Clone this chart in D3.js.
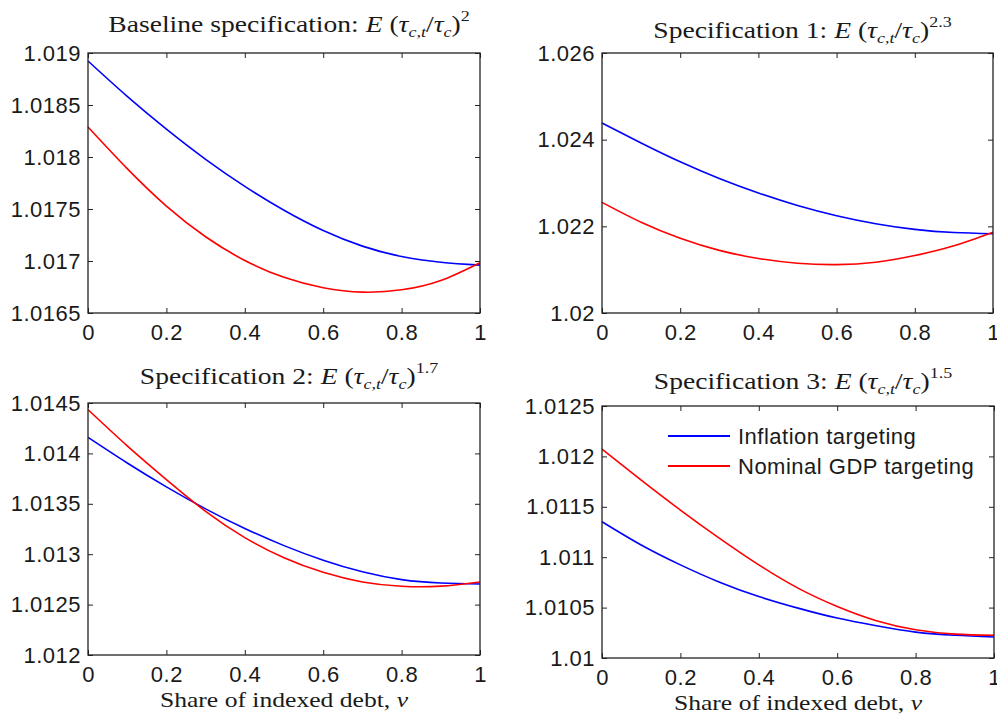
<!DOCTYPE html>
<html>
<head>
<meta charset="utf-8">
<script src="https://cdn.jsdelivr.net/npm/d3@7"></script>
<style>
  body { margin: 0; background: #fff; }
  .tick text { font-family: "Liberation Sans", Arial, sans-serif; font-size: 22px; fill: #1a1a1a; letter-spacing: 0.5px; }
  .tick line { stroke: #222; stroke-width: 1; }
  .title, .xtitle { font-family: "Liberation Serif", "DejaVu Serif", serif; fill: #1a1a1a; }
  .legend text { font-family: "Liberation Sans", Arial, sans-serif; font-size: 22px; fill: #1a1a1a; letter-spacing: 0.5px; }
</style>
</head>
<body>
<svg id="chart" width="997" height="715"></svg>
<script>
// share of indexed debt (x) sampled every 0.1
var shareV = [0, 0.1, 0.2, 0.3, 0.4, 0.5, 0.6, 0.7, 0.8, 0.9, 1];

// baseline: E(tau_ct/tau_c)^2
var baseInflation = [1.018923, 1.018583, 1.018268, 1.017978, 1.017718, 1.017488, 1.017293, 1.017143, 1.017043, 1.016988, 1.01696];
var baseNominal   = [1.018288, 1.017888, 1.017528, 1.017233, 1.017005, 1.016843, 1.016743, 1.016701, 1.016723, 1.016813, 1.016984];

// spec 1: exponent 2.3
var spec1Inflation = [1.024385, 1.023925, 1.02349, 1.023105, 1.02277, 1.02248, 1.022245, 1.02206, 1.02193, 1.021857, 1.02183];
var spec1Nominal   = [1.022554, 1.022095, 1.021725, 1.021445, 1.021258, 1.021148, 1.021117, 1.021172, 1.021325, 1.02155, 1.021862];

// spec 2: exponent 1.7
var spec2Inflation = [1.014159, 1.013905, 1.013668, 1.01345, 1.013255, 1.013085, 1.01294, 1.012825, 1.012748, 1.012714, 1.012705];
var spec2Nominal   = [1.014434, 1.014075, 1.01374, 1.013425, 1.013165, 1.012965, 1.01282, 1.012725, 1.012682, 1.012683, 1.012725];

// spec 3: exponent 1.5
var spec3Inflation = [1.011352, 1.011121, 1.010924, 1.010752, 1.01061, 1.010495, 1.010396, 1.01032, 1.010257, 1.010225, 1.010208];
var spec3Nominal   = [1.012071, 1.011765, 1.011468, 1.011187, 1.010924, 1.010693, 1.010511, 1.01037, 1.01028, 1.010237, 1.010225];

var xTicks = [0, 0.2, 0.4, 0.6, 0.8, 1];
var baseYTicks  = [1.0165, 1.017, 1.0175, 1.018, 1.0185, 1.019];
var spec1YTicks = [1.02, 1.022, 1.024, 1.026];
var spec2YTicks = [1.012, 1.0125, 1.013, 1.0135, 1.014, 1.0145];
var spec3YTicks = [1.01, 1.0105, 1.011, 1.0115, 1.012, 1.0125];

var seriesNames = ["Inflation targeting", "Nominal GDP targeting"];
var seriesColors = ["#0000ff", "#ff0000"];

var svg = d3.select("#chart");

var panels = [
  {title: "Baseline specification:", power: "2", left: 88, right: 480, top: 53, bottom: 313, titleY: 32,
   ticks: baseYTicks, lines: [baseInflation, baseNominal], xlabel: false},
  {title: "Specification 1:", power: "2.3", left: 602, right: 993, top: 53, bottom: 313, titleY: 38,
   ticks: spec1YTicks, lines: [spec1Inflation, spec1Nominal], xlabel: false},
  {title: "Specification 2:", power: "1.7", left: 88, right: 480, top: 403, bottom: 655, titleY: 384,
   ticks: spec2YTicks, lines: [spec2Inflation, spec2Nominal], xlabel: true},
  {title: "Specification 3:", power: "1.5", left: 602, right: 994, top: 406, bottom: 658, titleY: 389,
   ticks: spec3YTicks, lines: [spec3Inflation, spec3Nominal], xlabel: true, legend: true}
];

var fmt = function(v) { return String(+v.toFixed(5)); };

panels.forEach(function(p) {
  var x = d3.scaleLinear().domain([0, 1]).range([p.left, p.right]);
  var y = d3.scaleLinear().domain([p.ticks[0], p.ticks[p.ticks.length - 1]]).range([p.bottom, p.top]);
  var g = svg.append("g");

  // axes, ticks pointing inward like matlab
  g.append("g").attr("transform", "translate(0," + p.bottom + ")")
    .call(d3.axisBottom(x).tickValues(xTicks).tickFormat(fmt).tickSizeInner(-5).tickSizeOuter(0).tickPadding(11))
    .call(function(a) { a.select(".domain").remove(); });
  g.append("g").attr("transform", "translate(0," + p.top + ")")
    .call(d3.axisTop(x).tickValues(xTicks).tickFormat("").tickSizeInner(-5).tickSizeOuter(0))
    .call(function(a) { a.select(".domain").remove(); });
  g.append("g").attr("transform", "translate(" + p.left + ",0)")
    .call(d3.axisLeft(y).tickValues(p.ticks).tickFormat(fmt).tickSizeInner(-5).tickSizeOuter(0).tickPadding(7))
    .call(function(a) { a.select(".domain").remove(); });
  g.append("g").attr("transform", "translate(" + p.right + ",0)")
    .call(d3.axisRight(y).tickValues(p.ticks).tickFormat("").tickSizeInner(-5).tickSizeOuter(0))
    .call(function(a) { a.select(".domain").remove(); });

  var line = d3.line()
    .x(function(d, i) { return x(shareV[i]); })
    .y(function(d) { return y(d); })
    .curve(d3.curveNatural);

  p.lines.forEach(function(vals, i) {
    g.append("path").datum(vals)
      .attr("d", line)
      .attr("fill", "none")
      .attr("stroke", seriesColors[i])
      .attr("stroke-width", 1.6);
  });

  g.append("rect")
    .attr("x", p.left).attr("y", p.top)
    .attr("width", p.right - p.left).attr("height", p.bottom - p.top)
    .attr("fill", "none").attr("stroke", "#222").attr("stroke-width", 1.3);

  // title (latex-ish), stretched a bit to look like computer modern
  var t = g.append("text").attr("class", "title")
    .attr("transform", "translate(" + ((p.left + p.right) / 2 + 5) + "," + p.titleY + ") scale(1.2,1)")
    .attr("text-anchor", "middle").style("font-size", "23px");
  t.append("tspan").text(p.title + " ");
  t.append("tspan").attr("font-style", "italic").text("E");
  t.append("tspan").text(" (");
  t.append("tspan").attr("font-style", "italic").text("τ");
  t.append("tspan").attr("font-style", "italic").attr("dy", 5).style("font-size", "15px").text("c,t");
  t.append("tspan").attr("dy", -5).text("/");
  t.append("tspan").attr("font-style", "italic").text("τ");
  t.append("tspan").attr("font-style", "italic").attr("dy", 5).style("font-size", "15px").text("c");
  t.append("tspan").attr("dy", -5).text(")");
  t.append("tspan").attr("dy", -11).style("font-size", "15px").text(p.power);

  if (p.xlabel) {
    var xt = g.append("text").attr("class", "xtitle")
      .attr("transform", "translate(" + (p.left + p.right) / 2 + "," + (p.bottom + 52) + ") scale(1.22,1)")
      .attr("text-anchor", "middle").style("font-size", "21px");
    xt.append("tspan").text("Share of indexed debt, ");
    xt.append("tspan").attr("font-style", "italic").text("v");
  }

  if (p.legend) {
    var lg = g.append("g").attr("class", "legend");
    seriesNames.forEach(function(name, i) {
      var ly = 436 + i * 30;
      lg.append("line").attr("x1", 668).attr("x2", 730).attr("y1", ly).attr("y2", ly)
        .attr("stroke", seriesColors[i]).attr("stroke-width", 2);
      lg.append("text").attr("x", 738).attr("y", ly).attr("dy", "0.35em").text(name);
    });
  }
});
</script>
</body>
</html>
